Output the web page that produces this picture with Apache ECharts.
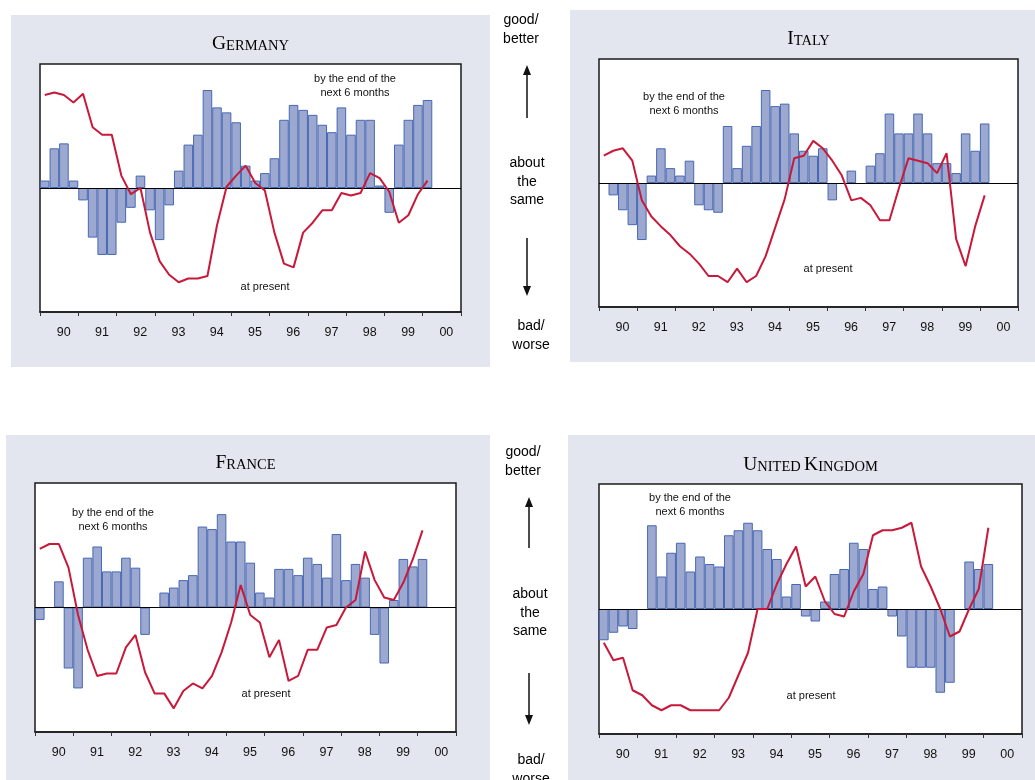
<!DOCTYPE html>
<html>
<head>
<meta charset="utf-8">
<script src="https://cdn.jsdelivr.net/npm/echarts@6/dist/echarts.min.js"></script>
<style>
  body { margin: 0; background: #fff; }
  #chart { width: 1035px; height: 780px; }
</style>
</head>
<body>
<div id="chart"></div>
<script>
// x axis labels (years) and quarters used for the data
const yearLabels = ['90', '91', '92', '93', '94', '95', '96', '97', '98', '99', '00'];
const quarters = [];
yearLabels.forEach(function (y) {
  for (let q = 1; q <= 4; q++) quarters.push(y + 'Q' + q);
});

// bars = expectations by the end of the next 6 months, line = situation at present
const germanyNext6m = [6, 32, 36, 6, -10, -40, -54, -54, -28, -16, 10, -18, -42, -14, 14, 35, 43, 79, 65, 61, 53, 18, 6, 12, 24, 55, 67, 63, 59, 51, 45, 65, 43, 55, 55, 2, -20, 35, 55, 67, 71];
const germanyPresent = [75, 77, 75, 69, 76, 49, 43, 43, 10, -5, 0, -36, -59, -70, -76, -73, -73, -71, -30, 1, 10, 18, 4, -2, -36, -61, -64, -36, -28, -18, -18, -4, -6, -4, 12, 8, -3, -28, -22, -5, 6];

const italyNext6m = [null, -10, -22, -34, -46, 6, 28, 12, 6, 18, -18, -22, -24, 46, 12, 30, 46, 75, 62, 64, 40, 26, 22, 28, -14, null, 10, null, 14, 24, 56, 40, 40, 56, 40, 16, 16, 8, 40, 26, 48];
const italyPresent = [22, 26, 28, 18, -14, -27, -35, -42, -51, -57, -65, -75, -75, -80, -69, -80, -75, -59, -36, -13, 20, 22, 34, 28, 18, 6, -14, -12, -18, -30, -30, -4, 20, 18, 16, 8, 24, -45, -67, -35, -10];

const franceNext6m = [-10, null, 21, -49, -65, 40, 49, 29, 29, 40, 32, -22, null, 12, 16, 22, 26, 65, 63, 75, 53, 53, 36, 12, 8, 31, 31, 26, 40, 35, 24, 59, 22, 35, 24, -22, -45, 6, 39, 33, 39];
const francePresent = [47, 51, 51, 32, -6, -34, -55, -53, -53, -32, -22, -52, -69, -69, -81, -67, -61, -65, -55, -36, -12, 18, -6, -12, -40, -26, -59, -55, -34, -34, -16, -14, 0, 6, 45, 22, 8, 6, 20, 39, 62];

const ukNext6m = [-25, -19, -14, -16, null, 67, 26, 45, 53, 30, 42, 36, 34, 59, 63, 69, 63, 48, 40, 10, 20, -6, -10, 6, 28, 32, 53, 48, 16, 18, -6, -22, -47, -47, -47, -67, -59, null, 38, 32, 36];
const ukPresent = [-27, -41, -39, -65, -69, -77, -81, -77, -77, -81, -81, -81, -81, -71, -53, -35, 0, 0, 20, 36, 50, 18, 26, 6, -4, -6, 14, 28, 59, 63, 63, 65, 69, 34, 18, 0, -22, -18, 0, 16, 65];

const panels = [
  { title: '{a|G}{b|ERMANY}', bars: germanyNext6m, line: germanyPresent,
    box: [11, 15, 479, 352], grid: { left: 40, top: 64, width: 421, height: 248 }, titleY: 44,
    nextPos: [355, 86], presentPos: [265, 287] },
  { title: '{a|I}{b|TALY}', bars: italyNext6m, line: italyPresent,
    box: [570, 10, 465, 352], grid: { left: 599, top: 59, width: 419, height: 248 }, titleY: 39,
    nextPos: [684, 104], presentPos: [828, 269] },
  { title: '{a|F}{b|RANCE}', bars: franceNext6m, line: francePresent,
    box: [6, 435, 484, 345], grid: { left: 35, top: 483, width: 421, height: 249 }, titleY: 463,
    nextPos: [113, 520], presentPos: [266, 694] },
  { title: '{a|U}{b|NITED} {a|K}{b|INGDOM}', bars: ukNext6m, line: ukPresent,
    box: [568, 435, 467, 345], grid: { left: 599, top: 484, width: 423, height: 250 }, titleY: 465,
    nextPos: [690, 505], presentPos: [811, 696] }
];

const sansFont = '"Liberation Sans", Arial, sans-serif';
const serifFont = '"Liberation Serif", "Times New Roman", serif';

const grids = [], xAxes = [], yAxes = [], series = [], graphics = [];

panels.forEach(function (p, i) {
  // grey panel background
  graphics.push({
    type: 'rect', z: -100,
    shape: { x: p.box[0], y: p.box[1], width: p.box[2], height: p.box[3] },
    style: { fill: '#e3e6ee' }
  });
  graphics.push({
    type: 'text', z: 10,
    x: p.grid.left + p.grid.width / 2, y: p.titleY,
    style: {
      text: p.title, textAlign: 'center', textVerticalAlign: 'middle',
      rich: {
        a: { fontFamily: serifFont, fontSize: 19.5, fill: '#000', verticalAlign: 'bottom' },
        b: { fontFamily: serifFont, fontSize: 14.5, fill: '#000', verticalAlign: 'bottom' }
      }
    }
  });
  graphics.push({
    type: 'text', z: 10, x: p.nextPos[0], y: p.nextPos[1],
    style: { text: 'by the end of the\nnext 6 months', textAlign: 'center', textVerticalAlign: 'middle',
      fontFamily: sansFont, fontSize: 11, lineHeight: 14.5, fill: '#111' }
  });
  graphics.push({
    type: 'text', z: 10, x: p.presentPos[0], y: p.presentPos[1],
    style: { text: 'at present', textAlign: 'center', textVerticalAlign: 'middle',
      fontFamily: sansFont, fontSize: 11, fill: '#111' }
  });

  grids.push(Object.assign({
    show: true, backgroundColor: '#fff', borderColor: '#1a1a1a', borderWidth: 1.5
  }, p.grid));

  // visible year axis
  xAxes.push({
    gridIndex: i, type: 'category', data: yearLabels, position: 'bottom', boundaryGap: true,
    axisLine: { onZero: false, lineStyle: { color: '#1a1a1a', width: 1.5 } },
    axisTick: { show: true, inside: false, length: 4, lineStyle: { color: '#333' } },
    axisLabel: { color: '#111', fontFamily: sansFont, fontSize: 12.5, margin: 14, padding: [0, 0, 0, 9] },
    splitLine: { show: false }
  });
  // hidden quarter axis for the data
  xAxes.push({
    gridIndex: i, type: 'category', data: quarters, boundaryGap: true, show: false
  });
  yAxes.push({
    gridIndex: i, type: 'value', min: -100, max: 100, show: false, splitLine: { show: false }
  });

  series.push({
    type: 'bar', xAxisIndex: i * 2 + 1, yAxisIndex: i, data: p.bars,
    barCategoryGap: '0%',
    itemStyle: { color: '#9ca8d0', borderColor: '#4668b3', borderWidth: 1 },
    markLine: {
      silent: true, symbol: ['none', 'none'], label: { show: false },
      lineStyle: { color: '#000', width: 1, type: 'solid' },
      data: [{ yAxis: 0 }]
    }
  });
  series.push({
    type: 'line', xAxisIndex: i * 2 + 1, yAxisIndex: i, data: p.line,
    symbol: 'none', z: 5,
    lineStyle: { color: '#c8193a', width: 2 }
  });
});

// middle column: scale explanation with arrows
function midText(txt, x, y) {
  graphics.push({
    type: 'text', x: x, y: y,
    style: { text: txt, textAlign: 'center', textVerticalAlign: 'top',
      fontFamily: sansFont, fontSize: 14, lineHeight: 18.5, fill: '#000' }
  });
}
function arrow(x, y1, y2) {
  // arrow from y1 to y2, head at y2
  const dir = y2 > y1 ? 1 : -1;
  graphics.push({
    type: 'line', shape: { x1: x, y1: y1, x2: x, y2: y2 - dir * 8 },
    style: { stroke: '#111', lineWidth: 1.5 }
  });
  graphics.push({
    type: 'polygon', shape: { points: [[x - 4, y2 - dir * 10], [x + 4, y2 - dir * 10], [x, y2]] },
    style: { fill: '#111' }
  });
}
midText('good/\nbetter', 521, 11);
arrow(527, 118, 65);
midText('about\nthe\nsame', 527, 154);
arrow(527, 238, 296);
midText('bad/\nworse', 531, 317);

midText('good/\nbetter', 523, 443);
arrow(529, 548, 497);
midText('about\nthe\nsame', 530, 585);
arrow(529, 673, 725);
midText('bad/\nworse', 531, 751);

const chart = echarts.init(document.getElementById('chart'));
chart.setOption({
  animation: false,
  backgroundColor: '#fff',
  grid: grids,
  xAxis: xAxes,
  yAxis: yAxes,
  series: series,
  graphic: { elements: graphics }
});
</script>
</body>
</html>
